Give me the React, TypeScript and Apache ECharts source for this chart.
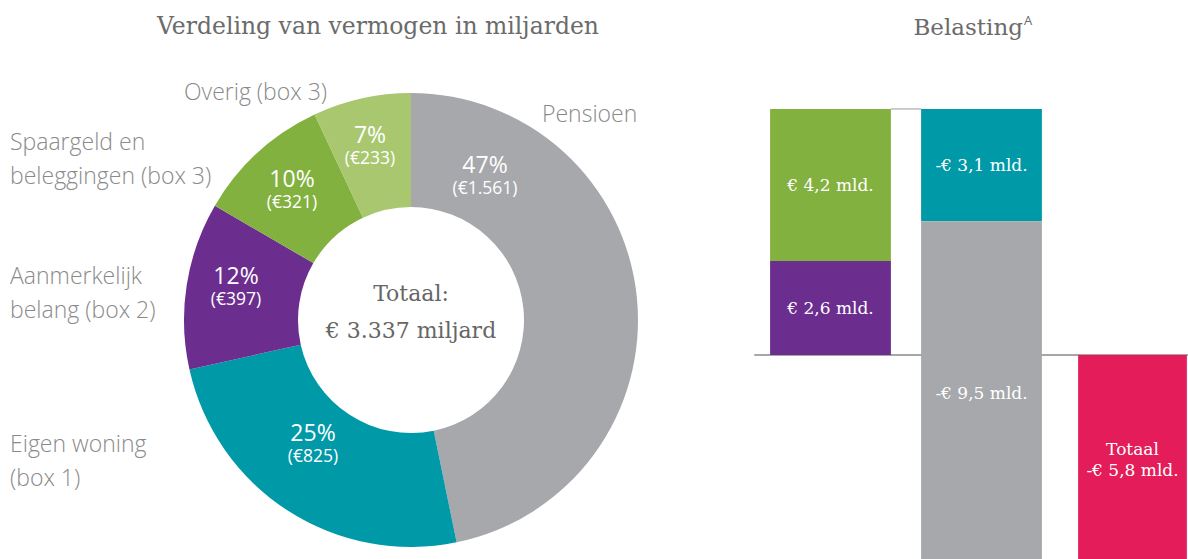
import React, { useEffect, useRef } from "react";
import * as echarts from "echarts";

// ---------- data ----------
const pieNames = [
  "Pensioen",
  "Eigen woning (box 1)",
  "Aanmerkelijk belang (box 2)",
  "Spaargeld en beleggingen (box 3)",
  "Overig (box 3)",
];
const pieValues = [1561, 825, 397, 321, 233];
const piePercents = [47, 25, 12, 10, 7];
const pieOuterLabels = [
  "Pensioen",
  "Eigen woning\n(box 1)",
  "Aanmerkelijk\nbelang (box 2)",
  "Spaargeld en\nbeleggingen (box 3)",
  "Overig (box 3)",
];

const taxColumns = ["Box 2 en 3", "Aftrek", "Totaal"];
const taxSteps = [2.6, 4.2, -3.1, -9.5];
const taxStepColumn = [0, 0, 1, 1];
const taxTotalName = "Totaal";

// ---------- styles ----------
const pieColors = ["#a6a8ab", "#0099a7", "#6b2d8e", "#83b13f", "#a8c76f"];
const stepColors = ["#6b2d8e", "#83b13f", "#0099a7", "#a6a8ab"];
const totalColor = "#e41c59";
const innerLabelPos = [
  [485, 174],
  [313, 442],
  [236, 285],
  [292, 188],
  [370, 144],
];
const outerLabelPos = [
  [542, 113],
  [10, 460],
  [10, 292],
  [10, 158],
  [184, 91],
];
const colWidthRatio = [0.8, 0.8, 0.72];
const SERIF = "'DejaVu Serif', serif";
const SANS = "'Open Sans', sans-serif";

const fmtThousands = (v: number) => String(v).replace(/\B(?=(\d{3})+(?!\d))/g, ".");
const fmtMld = (v: number) =>
  (v < 0 ? "-" : "") + "€ " + Math.abs(v).toFixed(1).replace(".", ",") + " mld.";

export default function App() {
  const ref = useRef<HTMLDivElement>(null);

  useEffect(() => {
    if (!ref.current) return;
    const chart = echarts.init(ref.current, null, { renderer: "svg" });

    const segs: any[] = [];
    let cum = 0;
    taxSteps.forEach((s, i) => {
      const lo = Math.min(cum, cum + s);
      const hi = Math.max(cum, cum + s);
      segs.push({ value: [taxStepColumn[i], lo, hi], color: stepColors[i], label: fmtMld(s) });
      cum += s;
    });
    const total = Math.round(cum * 10) / 10;
    segs.push({
      value: [2, Math.min(0, total), Math.max(0, total)],
      color: totalColor,
      label: taxTotalName + "\n" + fmtMld(total),
    });
    const peak = taxSteps[0] + taxSteps[1];

    const pxPerUnit = 36.18;
    const yMax = 7;
    const yMin = -5.5;
    const zeroY = 355;
    const gridLeft = 755;
    const bandPx = 151;
    const gridW = 1188 - gridLeft;

    const pieTotal = pieValues.reduce((a, b) => a + b, 0);

    const option: any = {
      animation: false,
      graphic: [
        {
          type: "text",
          x: 378,
          y: 26,
          style: {
            text: "Verdeling van vermogen in miljarden",
            font: `23.5px ${SERIF}`,
            fill: "#6b6b6b",
            textAlign: "center",
            textVerticalAlign: "middle",
          },
        },
        {
          type: "text",
          x: 1023,
          y: 27,
          style: {
            text: "Belasting",
            font: `23px ${SERIF}`,
            fill: "#6b6b6b",
            textAlign: "right",
            textVerticalAlign: "middle",
          },
        },
        {
          type: "text",
          x: 1024,
          y: 20,
          style: {
            text: "A",
            font: `13px ${SANS}`,
            fill: "#6b6b6b",
            textAlign: "left",
            textVerticalAlign: "middle",
          },
        },
        {
          type: "text",
          x: 411,
          y: 312,
          style: {
            text: "Totaal:\n€ " + fmtThousands(pieTotal) + " miljard",
            font: `22px ${SERIF}`,
            lineHeight: 37,
            fill: "#666666",
            textAlign: "center",
            textVerticalAlign: "middle",
          },
        },
        ...pieOuterLabels.map((t, i) => ({
          type: "text",
          x: outerLabelPos[i][0],
          y: outerLabelPos[i][1],
          style: {
            text: t,
            font: `300 23px ${SANS}`,
            lineHeight: 34,
            fill: "#8a8a8a",
            textAlign: "left",
            textVerticalAlign: "middle",
          },
        })),
      ],
      grid: {
        left: gridLeft,
        top: zeroY - yMax * pxPerUnit,
        width: gridW,
        height: (yMax - yMin) * pxPerUnit,
      },
      xAxis: {
        type: "value",
        min: -0.5,
        max: -0.5 + gridW / bandPx,
        axisLine: { show: true, onZero: true, lineStyle: { color: "#a7a7a7", width: 2 } },
        axisTick: { show: false },
        axisLabel: { show: false },
        splitLine: { show: false },
      },
      yAxis: {
        type: "value",
        min: yMin,
        max: yMax,
        show: false,
        splitLine: { show: false },
      },
      series: [
        {
          type: "pie",
          center: [411, 320],
          radius: [113, 227],
          startAngle: 90,
          clockwise: true,
          silent: true,
          data: pieNames.map((n, i) => ({
            name: n,
            value: pieValues[i],
            itemStyle: { color: pieColors[i] },
          })),
          label: {
            show: true,
            position: "inside",
            formatter: (p: any) =>
              `{pct|${piePercents[p.dataIndex]}%}\n{val|(€${fmtThousands(pieValues[p.dataIndex])})}`,
            rich: {
              pct: { fontFamily: SANS, fontSize: 23, lineHeight: 25, color: "#fff", align: "center" },
              val: { fontFamily: SANS, fontSize: 17.5, lineHeight: 21, color: "#fff", align: "center" },
            },
          },
          labelLine: { show: false },
          labelLayout: (params: any) => ({
            x: innerLabelPos[params.dataIndex][0],
            y: innerLabelPos[params.dataIndex][1],
            align: "center",
            verticalAlign: "middle",
          }),
        },
        {
          type: "custom",
          silent: true,
          clip: false,
          name: taxColumns.join(" / "),
          data: segs.map((s) => s.value),
          renderItem: (params: any, api: any) => {
            const col = api.value(0);
            const lo = api.value(1);
            const hi = api.value(2);
            const seg = segs[params.dataIndex];
            const pTop = api.coord([col, hi]);
            const pBot = api.coord([col, lo]);
            const band = api.size([1, 0])[0];
            const w = band * colWidthRatio[col];
            const x = pTop[0] - w / 2;
            return {
              type: "group",
              children: [
                {
                  type: "rect",
                  shape: { x, y: pTop[1], width: w, height: pBot[1] - pTop[1] },
                  style: { fill: seg.color },
                },
                {
                  type: "text",
                  x: pTop[0],
                  y: (pTop[1] + pBot[1]) / 2,
                  style: {
                    text: seg.label,
                    fill: "#ffffff",
                    font: `17px ${SERIF}`,
                    lineHeight: 21,
                    textAlign: "center",
                    textVerticalAlign: "middle",
                  },
                },
              ],
            };
          },
        },
        {
          type: "custom",
          silent: true,
          clip: false,
          data: [[0, peak]],
          renderItem: (params: any, api: any) => {
            const a = api.coord([api.value(0), api.value(1)]);
            const b = api.coord([api.value(0) + 1, api.value(1)]);
            const band = api.size([1, 0])[0];
            return {
              type: "line",
              shape: {
                x1: a[0] + (band * colWidthRatio[0]) / 2,
                y1: a[1],
                x2: b[0] - (band * colWidthRatio[1]) / 2,
                y2: b[1],
              },
              style: { stroke: "#9a9a9a", lineWidth: 1 },
            };
          },
        },
      ],
    };

    chart.setOption(option);
    return () => chart.dispose();
  }, []);

  return (
    <div
      ref={ref}
      style={{ position: "fixed", left: 0, top: 0, width: 1188, height: 559, background: "#fff" }}
    />
  );
}
